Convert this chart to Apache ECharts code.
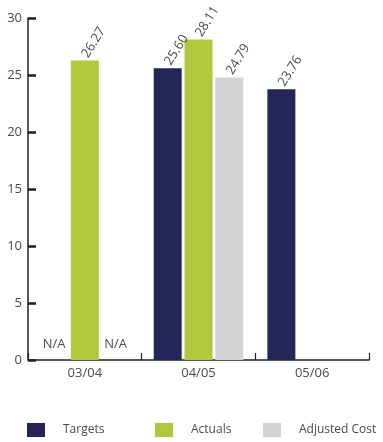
<!DOCTYPE html>
<html>
<head>
<meta charset="utf-8">
<script src="https://cdn.jsdelivr.net/npm/echarts@6/dist/echarts.min.js"></script>
<style>
  html, body { margin: 0; padding: 0; background: #fff; }
  #chart { width: 383px; height: 442px; }
</style>
</head>
<body>
<div id="chart"></div>
<script>
// Fiscal years on the x axis
const categories = ['03/04', '04/05', '05/06'];
// Series values (null = no bar)
const targets = [null, 25.60, 23.76];
const actuals = [26.27, 28.11, null];
const adjustedCost = [null, 24.79, null];
// Years where a series is reported as not available
const targetsNA = ['03/04'];
const adjustedNA = ['03/04'];
// Value axis ticks
const yMin = 0, yMax = 30, yStep = 5;

const textColor = '#4a4a4a';
const axisColor = '#231f20';
const fontFamily = '"Open Sans", "Noto Sans", sans-serif';

function buildData(values, naList) {
  return values.map((v, i) => {
    if (v === null && naList.indexOf(categories[i]) !== -1) {
      return {
        value: 0,
        label: {
          show: true, formatter: 'N/A', rotate: 0, position: 'top',
          align: 'center', verticalAlign: 'bottom', distance: 9
        }
      };
    }
    return v;
  });
}

const valueLabel = {
  show: true,
  position: 'top',
  rotate: 58,
  align: 'left',
  verticalAlign: 'middle',
  distance: 4,
  color: textColor,
  fontFamily: fontFamily,
  fontSize: 13,
  formatter: p => (p.value === null || p.value === undefined) ? '' : Number(p.value).toFixed(2)
};

function legendFor(name, left) {
  return {
    data: [name],
    left: left,
    top: 423,
    padding: 0,
    itemWidth: 18,
    itemHeight: 14,
    icon: 'rect',
    selectedMode: false,
    textStyle: { color: textColor, fontFamily: fontFamily, fontSize: 12, padding: [0, 0, 0, 13] }
  };
}

const chart = echarts.init(document.getElementById('chart'), null, { renderer: 'canvas' });
chart.setOption({
  animation: false,
  textStyle: { fontFamily: fontFamily },
  grid: { left: 28, right: 14, top: 18, bottom: 82, containLabel: false },
  legend: [
    legendFor('Targets', 27),
    legendFor('Actuals', 155),
    legendFor('Adjusted Cost', 263)
  ],
  xAxis: {
    type: 'category',
    data: categories,
    axisLine: { lineStyle: { color: axisColor, width: 1.5 } },
    axisTick: { show: true, inside: true, length: 7, lineStyle: { color: axisColor, width: 1.2 } },
    axisLabel: { color: textColor, fontSize: 13, margin: 7, fontFamily: fontFamily }
  },
  yAxis: {
    type: 'value',
    min: yMin, max: yMax, interval: yStep,
    splitLine: { show: false },
    axisLine: { show: true, lineStyle: { color: axisColor, width: 1.5 } },
    axisTick: { show: true, inside: true, length: 8, lineStyle: { color: axisColor, width: 2.5 } },
    axisLabel: { color: textColor, fontSize: 13, margin: 6, fontFamily: fontFamily }
  },
  series: [
    {
      name: 'Targets', type: 'bar', barWidth: 28, barGap: '10%',
      itemStyle: { color: '#252657' },
      label: valueLabel,
      data: buildData(targets, targetsNA)
    },
    {
      name: 'Actuals', type: 'bar', barWidth: 28, barGap: '10%',
      itemStyle: { color: '#b1c83d' },
      label: valueLabel,
      data: actuals
    },
    {
      name: 'Adjusted Cost', type: 'bar', barWidth: 28, barGap: '10%',
      itemStyle: { color: '#d2d3d5' },
      label: valueLabel,
      data: buildData(adjustedCost, adjustedNA)
    }
  ]
});
</script>
</body>
</html>
